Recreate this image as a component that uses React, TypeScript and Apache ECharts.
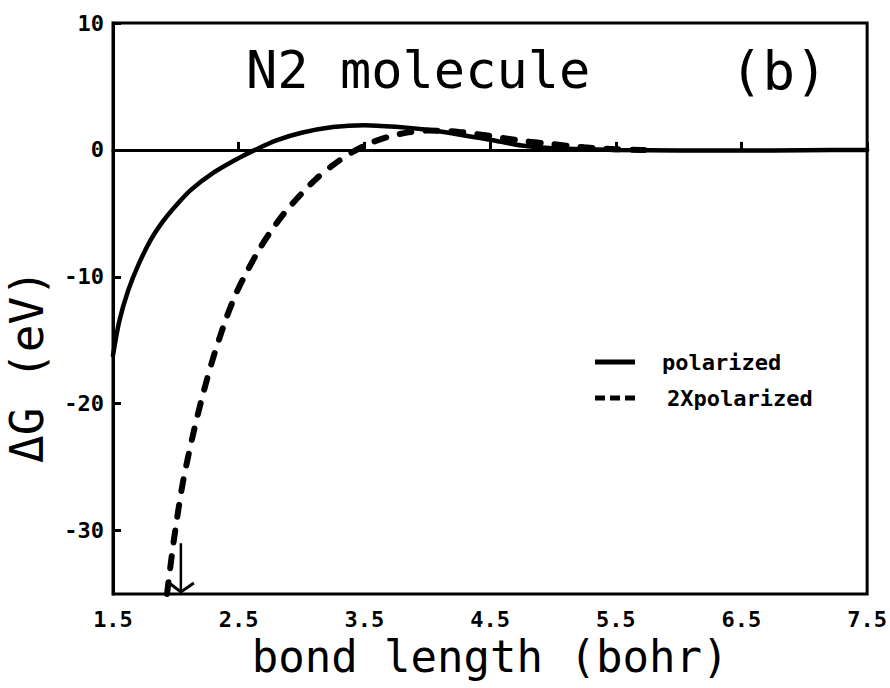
import React, { useEffect, useRef } from "react";
import * as echarts from "echarts";

// Bond length grid (bohr) and free-energy change (eV)
const polarizedX = [1.5, 1.55, 1.62, 1.7, 1.8, 1.9, 2.0, 2.12, 2.3, 2.5, 2.63, 2.8, 3.0, 3.25, 3.5, 3.75, 4.0, 4.25, 4.5, 4.75, 5.0, 5.5, 6.0, 6.5, 7.0, 7.5];
const polarizedY = [-16.2, -13.5, -11.1, -9.1, -7.1, -5.6, -4.4, -3.15, -1.8, -0.65, 0.0, 0.75, 1.35, 1.8, 1.95, 1.82, 1.58, 1.22, 0.8, 0.35, 0.12, 0.0, -0.05, -0.05, -0.03, 0.0];

const doubleX = [1.93, 1.97, 2.01, 2.06, 2.14, 2.22, 2.3, 2.4, 2.48, 2.56, 2.66, 2.75, 2.87, 3.0, 3.12, 3.25, 3.4, 3.55, 3.7, 3.85, 4.0, 4.25, 4.5, 4.75, 5.0, 5.25, 5.5, 5.7, 5.8];
const doubleY = [-35.0, -31.8, -29.0, -26.0, -22.3, -19.1, -16.3, -13.3, -11.3, -9.7, -7.9, -6.5, -4.9, -3.45, -2.25, -1.2, -0.2, 0.55, 1.05, 1.38, 1.52, 1.42, 1.1, 0.72, 0.45, 0.2, 0.05, 0.0, 0.0];

// Arrow marking the cut-off of the 2Xpolarized curve: [x, from, to]
const arrowMark = [[2.04, -31, -35]];

const xTicks = [1.5, 2.5, 3.5, 4.5, 5.5, 6.5, 7.5];
const yTicks = [-30, -20, -10, 0, 10];

const seriesNames = ["polarized", "2Xpolarized"];

const MONO = "'DejaVu Sans Mono', monospace";

// Legend keys: a plain bar and a three-dash bar
const SOLID_KEY = "path://M0,0H40V5H0Z";
const DASH_KEY = "path://M0,0H10V5H0Z M15,0H25V5H15Z M30,0H40V5H30Z";

export default function App() {
  const ref = useRef<HTMLDivElement>(null);

  useEffect(() => {
    if (!ref.current) return;
    const chart = echarts.init(ref.current, null, { renderer: "svg" });

    const zip = (xs: number[], ys: number[]) => xs.map((x, i) => [x, ys[i]]);

    const tickLabel = {
      fontFamily: MONO,
      fontWeight: "bold" as const,
      fontSize: 22,
      color: "#000",
    };

    chart.setOption({
      animation: false,
      backgroundColor: "#fff",
      title: [
        {
          text: "N2 molecule",
          left: 246,
          top: 44,
          padding: 0,
          textStyle: { fontFamily: MONO, fontSize: 52, fontWeight: "normal", color: "#000" },
        },
        {
          text: "(b)",
          left: 730,
          top: 44,
          padding: 0,
          textStyle: { fontFamily: MONO, fontSize: 54, fontWeight: "normal", color: "#000" },
        },
      ],
      legend: {
        orient: "vertical",
        left: 590,
        top: 346,
        itemWidth: 40,
        itemHeight: 5,
        itemGap: 14,
        selectedMode: false,
        textStyle: { fontFamily: MONO, fontWeight: "bold", fontSize: 22, color: "#000", padding: [0, 0, 0, 22] },
        data: [
          { name: seriesNames[0], icon: SOLID_KEY },
          { name: seriesNames[1], icon: DASH_KEY, textStyle: { padding: [0, 0, 0, 27] } },
        ],
      },
      graphic: [
        {
          type: "text",
          x: 27,
          y: 366,
          rotation: Math.PI / 2,
          style: {
            text: "ΔG (eV)",
            fontFamily: MONO,
            fontSize: 46,
            fill: "#000",
            align: "center",
            verticalAlign: "middle",
          },
        },
      ],
      grid: {
        left: 113,
        right: 22,
        top: 23,
        bottom: 94,
        show: true,
        borderColor: "#000",
        borderWidth: 3,
        backgroundColor: "transparent",
      },
      xAxis: {
        type: "value",
        min: 1.5,
        max: 7.5,
        name: "bond length (bohr)",
        nameLocation: "middle",
        nameGap: 36,
        nameTextStyle: { fontFamily: MONO, fontSize: 44, color: "#000" },
        axisLine: { show: true, lineStyle: { color: "#000", width: 3 } },
        axisTick: { show: true, inside: true, length: 8, customValues: xTicks, lineStyle: { color: "#000", width: 3 } },
        axisLabel: {
          customValues: xTicks,
          margin: 14,
          formatter: (v: number) => v.toFixed(1),
          ...tickLabel,
        },
        splitLine: { show: false },
      },
      yAxis: {
        type: "value",
        min: -35,
        max: 10,
        axisLine: { show: true, lineStyle: { color: "#000", width: 3 } },
        axisTick: { show: true, inside: true, length: 8, customValues: yTicks, lineStyle: { color: "#000", width: 3 } },
        axisLabel: {
          customValues: yTicks,
          margin: 9,
          formatter: (v: number) => String(v),
          ...tickLabel,
        },
        splitLine: { show: false },
      },
      series: [
        {
          name: seriesNames[0],
          type: "line",
          data: zip(polarizedX, polarizedY),
          smooth: 0.3,
          symbol: "none",
          showSymbol: false,
          color: "#000",
          lineStyle: { color: "#000", width: 4.5, cap: "round" },
          markLine: {
            silent: true,
            symbol: ["none", "none"],
            label: { show: false },
            lineStyle: { color: "#000", width: 3, type: "solid" },
            data: [{ yAxis: 0 }],
          },
          z: 3,
        },
        {
          name: seriesNames[1],
          type: "line",
          data: zip(doubleX, doubleY),
          smooth: 0.3,
          symbol: "none",
          showSymbol: false,
          color: "#000",
          lineStyle: { color: "#000", width: 6, type: [12, 14], cap: "round" },
          z: 3,
        },
        {
          name: "arrow",
          type: "custom",
          data: arrowMark,
          encode: { x: 0, y: 1 },
          silent: true,
          z: 4,
          renderItem: (_params: any, api: any) => {
            const x = api.value(0);
            const p1 = api.coord([x, api.value(1)]);
            const p2 = api.coord([x, api.value(2)]);
            return {
              type: "group",
              children: [
                {
                  type: "line",
                  shape: { x1: p1[0], y1: p1[1], x2: p2[0], y2: p2[1] - 2 },
                  style: { stroke: "#000", lineWidth: 2.5 },
                },
                {
                  type: "polyline",
                  shape: {
                    points: [
                      [p2[0] - 13, p2[1] - 12],
                      [p2[0], p2[1] - 2],
                      [p2[0] + 13, p2[1] - 11],
                    ],
                  },
                  style: { stroke: "#000", lineWidth: 3, fill: "none" },
                },
              ],
            };
          },
        },
      ],
    });

    return () => chart.dispose();
  }, []);

  return (
    <div
      ref={ref}
      style={{ position: "fixed", left: 0, top: 0, width: 890, height: 688, background: "#fff" }}
    />
  );
}
